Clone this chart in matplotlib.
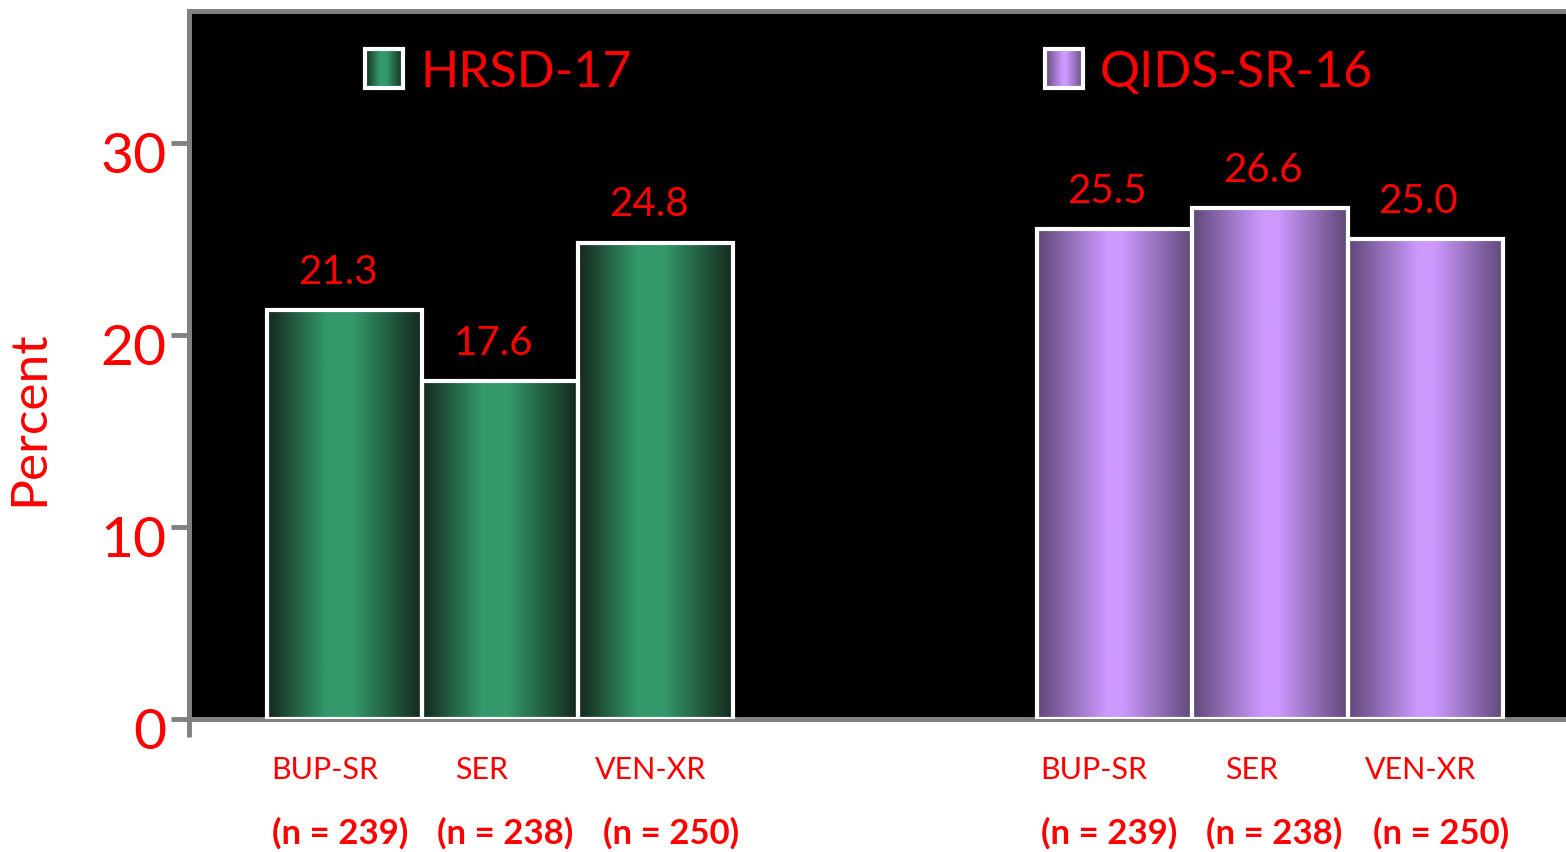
import numpy as np
import matplotlib.pyplot as plt
from matplotlib.colors import LinearSegmentedColormap
from matplotlib.patches import Rectangle
from matplotlib.transforms import ScaledTranslation

drugs = ["BUP-SR", "SER", "VEN-XR"]
n_labels = ["(n = 239)", "(n = 238)", "(n = 250)"]
hrsd = [21.3, 17.6, 24.8]
qids = [25.5, 26.6, 25.0]
series = ["HRSD-17", "QIDS-SR-16"]

plt.rcParams['font.family'] = ['Lato', 'DejaVu Sans']

green = LinearSegmentedColormap.from_list(
    "g", [(0, "#14281c"), (0.38, "#33996a"), (0.55, "#33996a"), (1, "#14281c")])
purple = LinearSegmentedColormap.from_list(
    "p", [(0, "#5e4878"), (0.45, "#cc99ff"), (0.55, "#cc99ff"), (1, "#5e4878")])
grad = np.linspace(0, 1, 256).reshape(1, -1)

fig = plt.figure(figsize=(15.66, 8.53), dpi=100)
ax = fig.add_axes([189 / 1566, 133 / 853, 1 - 189 / 1566, 708 / 853])
ax.set_facecolor("black")

x1 = np.arange(1, 4)
x2 = np.arange(6, 9) - 0.05


def gradient_bars(xs, vals, cmap):
    bars = ax.bar(xs, vals, width=1.0, facecolor="none", edgecolor="white",
                  linewidth=3, zorder=3)
    for b in bars:
        im = ax.imshow(grad, cmap=cmap, aspect="auto", zorder=2,
                       extent=[b.get_x(), b.get_x() + b.get_width(), 0, b.get_height()])
        im.set_clip_path(b)
    for x, v in zip(xs, vals):
        ax.annotate(f"{v:.1f}", (x, v), xytext=(-5, 28), textcoords="offset points",
                    ha="center", va="center", color="red", fontsize=29)


gradient_bars(x1, hrsd, green)
gradient_bars(x2, qids, purple)

# legend boxes drawn by hand
for (bx, tx), name, cmap in zip([(0.1278, 0.1678), (0.6216, 0.6616)], series, [green, purple]):
    rect = Rectangle((bx, 0.891), 0.0276, 0.055, transform=ax.transAxes,
                     facecolor="none", edgecolor="white", linewidth=3, zorder=5)
    ax.add_patch(rect)
    im = ax.imshow(grad, cmap=cmap, aspect="auto", zorder=4, transform=ax.transAxes,
                   extent=[bx, bx + 0.0276, 0.891, 0.946])
    im.set_clip_path(rect)
    ax.text(tx, 0.914, name, transform=ax.transAxes, color="red", fontsize=36,
            va="center", ha="left")

# category labels under the axis
trans = ax.get_xaxis_transform()
name_shift = [-0.13, -0.12, -0.03]
n_shift = [-0.03, 0.03, 0.1]
for xs in (x1, x2):
    for i, (x, d, n) in enumerate(zip(xs, drugs, n_labels)):
        ax.text(x + name_shift[i], -0.0706, d, transform=trans, ha="center",
                va="center", color="red", fontsize=22)
        ax.text(x + n_shift[i], -0.160, n, transform=trans, ha="center",
                va="center", color="red", fontsize=25, fontweight="bold")

ax.set_xlim(0, 8.855)
ax.set_ylim(0, 36.875)
ax.set_yticks([0, 10, 20, 30])
ax.set_xticks([0])
ax.set_xticklabels([""])
ax.tick_params(axis="y", labelsize=41, labelcolor="red", color="#808080",
               length=13, width=3.5, pad=3)
ax.tick_params(axis="x", color="#808080", length=13, width=3.5)
for lab in ax.get_yticklabels():
    lab.set_transform(lab.get_transform() + ScaledTranslation(0, -6 / 72, fig.dpi_scale_trans))
for s in ["top", "left", "bottom"]:
    ax.spines[s].set_color("#808080")
    ax.spines[s].set_linewidth(3.6)
ax.spines["right"].set_visible(False)

ax.set_ylabel("Percent", color="red", fontsize=37)
ax.yaxis.set_label_coords(-0.099, 0.4266)

fig.savefig("out.png", dpi=100)
